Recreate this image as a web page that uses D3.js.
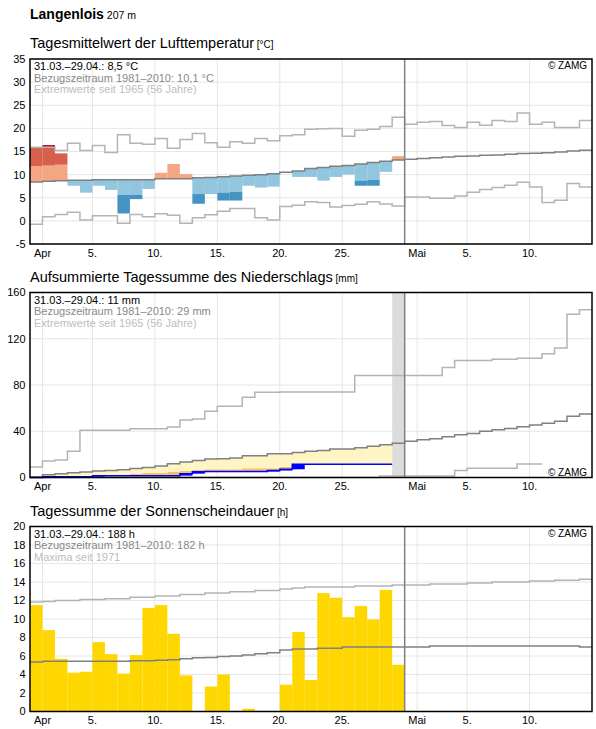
<!DOCTYPE html>
<html>
<head>
<meta charset="utf-8">
<script src="https://d3js.org/d3.v7.min.js"></script>
<style>
  body { margin: 0; background: #fff; }
  text { font-family: "Liberation Sans", Arial, sans-serif; }
</style>
</head>
<body>
<svg id="chart" width="596" height="729"></svg>
<script>
// ---- data ----
var startDay = new Date(2021, 2, 31);
var endDay = new Date(2021, 4, 15);

var tickDays = [new Date(2021,3,1), new Date(2021,3,5), new Date(2021,3,10), new Date(2021,3,15),
                new Date(2021,3,20), new Date(2021,3,25), new Date(2021,4,1), new Date(2021,4,5), new Date(2021,4,10)];
var tickLabels = ["Apr", "5.", "10.", "15.", "20.", "25.", "Mai", "5.", "10."];

// temperature, 31.03. - 14.05. climatology, 31.03. - 29.04. observed
var tempMean = [8.4, 8.55, 8.7, 8.8, 8.8, 8.9, 8.9, 8.9, 8.9, 8.9, 9.1, 9.1, 9.1, 9.35, 9.4, 9.55, 9.7, 9.85, 10.0, 10.2,
                10.5, 10.8, 11.3, 11.55, 11.8, 12.0, 12.3, 12.6, 12.9, 13.15, 13.3, 13.5, 13.65, 13.8, 13.95, 14.05, 14.2, 14.25,
                14.4, 14.55, 14.6, 14.75, 14.9, 15.1, 15.25];
var tempMax = [15.9, 15.9, 15.2, 16.8, 15.2, 16.3, 14.8, 18.6, 16.8, 16.55, 17.8, 15.7, 17.6, 18.9, 16.9, 15.9, 17.1, 16.8,
               17.8, 17.3, 18.4, 18.6, 19.8, 19.9, 20.0, 18.3, 19.6, 19.8, 20.4, 22.4, 20.9, 21.3, 21.5, 20.6, 20.2, 21.3, 20.7,
               21.7, 21.5, 23.3, 20.9, 21.3, 20.2, 20.2, 21.7];
var tempMin = [-0.75, 0.9, 1.4, 1.85, 0.2, 1.1, 1.1, -0.5, 1.4, 0.9, 1.55, 1.2, -0.5, 0.7, 1.35, 2.1, 2.65, 2.65, 0.7, 0.2,
               3.1, 3.4, 4.15, 4.0, 3.0, 3.35, 3.6, 4.15, 3.65, 3.2, 5.15, 5.15, 4.9, 4.9, 5.4, 6.2, 6.8, 7.2, 7.7, 8.35, 7.35,
               4.0, 4.45, 8.1, 7.35];
var tempObs = [15.75, 16.4, 14.6, 7.6, 6.1, 7.6, 6.7, 1.6, 4.7, 6.9, 10.4, 12.3, 10.1, 3.7, 5.8, 4.4, 4.4, 7.6, 7.2, 7.4,
               10.5, 9.5, 9.5, 8.7, 9.5, 10.0, 7.6, 7.6, 10.6, 14.0];
// where the bar changes from the light to the strong colour
var tempStrong = [11.85, 11.95, 12.15, null, null, null, null, 5.6, 5.6, null, null, null, null, 5.8, null, 6.1, 6.25, null,
                  null, null, null, null, null, null, null, null, 8.7, 8.85, null, null];

// precipitation (cumulative)
var precMean = [0.5, 2.3, 3.2, 4.1, 4.8, 5.7, 6.0, 6.8, 7.8, 8.7, 10.0, 11.9, 13.5, 14.6, 16.0, 16.3, 16.8, 18.9, 18.9, 20.5,
                20.5, 21.7, 22.6, 23.4, 24.6, 24.6, 25.7, 27.1, 28.3, 29.7, 31.4, 32.6, 33.5, 35.2, 36.9, 38.0, 40.0, 41.2, 42.3,
                44.0, 45.5, 46.9, 48.6, 52.9, 54.9];
var precMax = [9.1, 14.3, 15.1, 22.8, 40.9, 40.9, 40.9, 40.9, 42.1, 42.1, 42.1, 43.7, 49.7, 50.6, 57.4, 61.7, 61.7, 69.4, 73.7,
               73.7, 74.0, 74.0, 74.0, 74.0, 74.0, 74.0, 88.3, 88.3, 88.3, 88.3, 88.3, 88.3, 88.3, 95.2, 101.2, 101.2, 101.2,
               102.3, 102.3, 103.2, 103.2, 107.0, 112.0, 141.2, 145.0];
var precMin = [0, 0, 0, 0, 0, 0, 0, 0, 0, 0, 0, 0, 0, 0, 0, 0, 0, 0, 0, 0, 0, 0, 0, 0, 0, 0, 0, 0, 1.4, 1.4, 1.4, 1.4, 1.4, 1.4,
               6.0, 8.0, 8.0, 8.0, 8.0, 11.7, 11.7];
var precObs = [0.0, 0.6, 0.6, 0.6, 0.6, 1.6, 1.6, 1.6, 1.6, 1.6, 1.6, 1.6, 3.3, 5.0, 5.1, 5.1, 5.1, 5.1, 5.1, 6.0, 7.1, 11.4,
               11.4, 11.4, 11.4, 11.4, 11.4, 11.4, 11.4];
var precLow = [null, null, null, null, null, null, null, null, 3.1, 4.0, 4.0, 4.8, 5.7, 6.8, 7.1, 7.1, 7.1, 8.0, 8.0, 8.0, 9.1,
               null, null, null, null, null, null, null, null];
var precMissing = [new Date(2021, 3, 29)];

// sunshine
var sunObs = [11.5, 8.8, 5.7, 4.2, 4.3, 7.5, 6.2, 4.1, 6.1, 11.2, 11.5, 8.4, 3.9, 0, 2.7, 4.0, 0, 0.3, 0, 0,
              2.9, 8.6, 3.4, 12.8, 12.3, 10.2, 11.4, 9.95, 13.15, 5.05];
var sunMean = [5.35, 5.42, 5.42, 5.42, 5.42, 5.42, 5.42, 5.42, 5.5, 5.5, 5.55, 5.6, 5.7, 5.8, 5.85, 5.95, 6.0, 6.1, 6.25, 6.35,
               6.65, 6.75, 6.75, 6.85, 6.85, 6.97, 6.97, 6.97, 6.97, 6.97, 6.97, 6.97, 7.07, 7.07, 7.07, 7.07, 7.07, 7.07, 7.07,
               7.07, 7.07, 7.07, 7.07, 7.07, 6.97];
var sunMax = [11.83, 11.9, 12.0, 12.0, 12.1, 12.1, 12.2, 12.2, 12.36, 12.36, 12.5, 12.5, 12.65, 12.65, 12.8, 12.8, 12.94, 12.94,
              13.09, 13.09, 13.23, 13.34, 13.45, 13.45, 13.45, 13.45, 13.56, 13.56, 13.56, 13.67, 13.67, 13.67, 13.78, 13.78,
              13.78, 13.9, 13.9, 14.0, 14.0, 14.0, 14.1, 14.1, 14.2, 14.2, 14.3];

var days = d3.timeDay.range(startDay, endDay);
var svg = d3.select("#chart");

var x = d3.scaleTime().domain([startDay, endDay]).range([30, 592]);

function nextDay(d) { return d3.timeDay.offset(d, 1); }

// step line through day values, last value held until end of its day
function stepLine(g, y, values, color, width) {
  var pts = values.map(function(v, i) { return [days[i], v]; });
  pts.push([nextDay(days[values.length - 1]), values[values.length - 1]]);
  g.append("path")
    .datum(pts)
    .attr("fill", "none")
    .attr("stroke", color)
    .attr("stroke-width", width || 1.5)
    .attr("d", d3.line()
      .x(function(d) { return x(d[0]); })
      .y(function(d) { return y(d[1]); })
      .curve(d3.curveStepAfter));
}

function panel(top, domain, ticks, title, unit, notes, zamgBottom) {
  var y = d3.scaleLinear().domain(domain).range([top + 185, top]);
  var g = svg.append("g");

  svg.append("text").attr("x", 30).attr("y", top - 11)
    .attr("font-size", 14.5).attr("fill", "#000")
    .text(title)
    .append("tspan").attr("font-size", 10).text(" [" + unit + "]");

  // grid
  g.selectAll(".hg").data(ticks).enter().append("line")
    .attr("x1", 30).attr("x2", 592)
    .attr("y1", function(d) { return y(d); }).attr("y2", function(d) { return y(d); })
    .attr("stroke", "#e6e6e6").attr("stroke-width", 1);
  g.selectAll(".vg").data(tickDays).enter().append("line")
    .attr("x1", function(d) { return x(d); }).attr("x2", function(d) { return x(d); })
    .attr("y1", top).attr("y2", top + 185)
    .attr("stroke", "#e6e6e6").attr("stroke-width", 1);

  // axis labels
  svg.selectAll(null).data(ticks).enter().append("text")
    .attr("x", 25.5).attr("y", function(d) { return y(d); })
    .attr("dy", "0.36em").attr("text-anchor", "end")
    .attr("font-size", 11).attr("fill", "#000")
    .text(function(d) { return d; });
  svg.selectAll(null).data(tickDays).enter().append("text")
    .attr("x", function(d) { return x(d); }).attr("y", top + 185 + 12.5)
    .attr("text-anchor", "middle")
    .attr("font-size", 11).attr("fill", "#000")
    .text(function(d, i) { return tickLabels[i]; });

  var marks = svg.append("g");
  var over = svg.append("g");

  // frame + today line
  over.append("line")
    .attr("x1", x(new Date(2021, 3, 30))).attr("x2", x(new Date(2021, 3, 30)))
    .attr("y1", top).attr("y2", top + 185)
    .attr("stroke", "#808080").attr("stroke-width", 1.5);
  over.append("rect")
    .attr("x", 30).attr("y", top).attr("width", 562).attr("height", 185)
    .attr("fill", "none").attr("stroke", "#000").attr("stroke-width", 1.5);

  var colors = ["#000", "#888", "#bdbdbd"];
  notes.forEach(function(t, i) {
    over.append("text").attr("x", 34).attr("y", top + 11 + i * 11.5)
      .attr("font-size", 11).attr("fill", colors[i]).text(t);
  });
  over.append("text").attr("x", 587).attr("y", zamgBottom ? top + 183 : top + 10)
    .attr("text-anchor", "end").attr("font-size", 10).attr("fill", "#000")
    .text("\u00a9 ZAMG");

  return { y: y, g: marks };
}

// ---- title ----
svg.append("text").attr("x", 30).attr("y", 18.5)
  .attr("font-size", 14).attr("font-weight", "bold").attr("fill", "#000")
  .text("Langenlois")
  .append("tspan").attr("font-size", 10.5).attr("font-weight", "normal").text(" 207 m");

// ---- panel 1: temperature ----
var p1 = panel(59, [-5, 35], [-5, 0, 5, 10, 15, 20, 25, 30, 35],
  "Tagesmittelwert der Lufttemperatur", "\u00b0C",
  ["31.03.\u201329.04.: 8,5 \u00b0C", "Bezugszeitraum 1981\u20132010: 10,1 \u00b0C", "Extremwerte seit 1965 (56 Jahre)"], false);

function seg(g, y, d, a, b, color) {
  if (a === b) return;
  g.append("rect")
    .attr("x", x(d)).attr("width", x(nextDay(d)) - x(d))
    .attr("y", y(Math.max(a, b))).attr("height", Math.abs(y(a) - y(b)))
    .attr("fill", color);
}

tempObs.forEach(function(o, i) {
  var d = days[i], m = tempMean[i], s = tempStrong[i];
  if (o >= m) {
    seg(p1.g, p1.y, d, m, s !== null ? Math.min(o, s) : o, "#f4a582");
    if (s !== null && o > s) seg(p1.g, p1.y, d, s, Math.min(o, tempMax[i]), "#d6604d");
    if (o > tempMax[i]) seg(p1.g, p1.y, d, tempMax[i], o, "#b2182b");
  } else {
    seg(p1.g, p1.y, d, m, s !== null ? Math.max(o, s) : o, "#92c5de");
    if (s !== null && o < s) seg(p1.g, p1.y, d, s, Math.max(o, tempMin[i]), "#4393c3");
    if (o < tempMin[i]) seg(p1.g, p1.y, d, tempMin[i], o, "#2166ac");
  }
});
stepLine(p1.g, p1.y, tempMax, "#b4b4b4");
stepLine(p1.g, p1.y, tempMin, "#b4b4b4");
stepLine(p1.g, p1.y, tempMean, "#808080");

// ---- panel 2: precipitation ----
var p2 = panel(292.5, [0, 160], [0, 40, 80, 120, 160],
  "Aufsummierte Tagessumme des Niederschlags", "mm",
  ["31.03.\u201329.04.: 11 mm", "Bezugszeitraum 1981\u20132010: 29 mm", "Extremwerte seit 1965 (56 Jahre)"], true);

precMissing.forEach(function(d) {
  p2.g.append("rect")
    .attr("x", x(d)).attr("width", x(nextDay(d)) - x(d))
    .attr("y", p2.y(160)).attr("height", p2.y(0) - p2.y(160))
    .attr("fill", "#dcdcdc");
});
precObs.forEach(function(o, i) {
  var d = days[i], m = precMean[i], t = precLow[i];
  var lo = o;
  if (t !== null && t > o) { seg(p2.g, p2.y, d, o, t, "#fcc05a"); lo = t; }
  if (m > lo) seg(p2.g, p2.y, d, lo, m, "#fff5c4");
});
precObs.forEach(function(o, i) {
  var prev = i > 0 ? precObs[i - 1] : 0;
  if (o - prev > 0.5) seg(p2.g, p2.y, days[i], prev, o, "#0000ff");
});
stepLine(p2.g, p2.y, precMax, "#b4b4b4");
stepLine(p2.g, p2.y, precMin, "#b4b4b4");
stepLine(p2.g, p2.y, precMean, "#808080");
stepLine(p2.g, p2.y, precObs, "#0000ff", 1.5);

// ---- panel 3: sunshine ----
var p3 = panel(526.5, [0, 20], [0, 2, 4, 6, 8, 10, 12, 14, 16, 18, 20],
  "Tagessumme der Sonnenscheindauer", "h",
  ["31.03.\u201329.04.: 188 h", "Bezugszeitraum 1981\u20132010: 182 h", "Maxima seit 1971"], false);

p3.g.selectAll(null).data(sunObs).enter().append("rect")
  .attr("x", function(d, i) { return x(days[i]); })
  .attr("width", function(d, i) { return x(nextDay(days[i])) - x(days[i]); })
  .attr("y", function(d) { return p3.y(d); })
  .attr("height", function(d) { return p3.y(0) - p3.y(d); })
  .attr("fill", "#ffd700");
stepLine(p3.g, p3.y, sunMax, "#b4b4b4");
stepLine(p3.g, p3.y, sunMean, "#808080");
</script>
</body>
</html>
